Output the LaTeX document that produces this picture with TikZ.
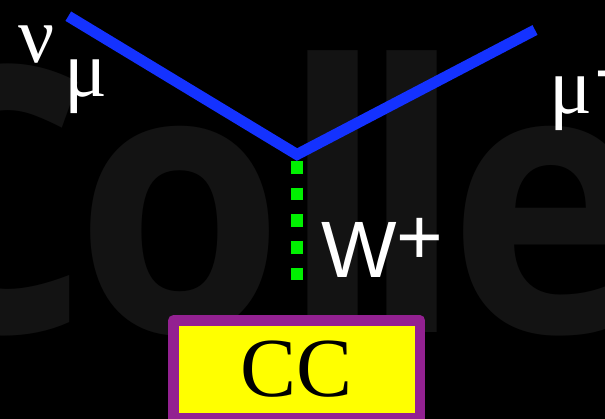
\documentclass[tikz,border=0pt]{standalone}
\usepackage{fontspec}
\setmainfont{Liberation Serif}
\newfontfamily\labelsans{Liberation Sans}
\newfontfamily\markfont{Open Sans}

\definecolor{fermion}{RGB}{20,50,255}
\definecolor{boson}{RGB}{0,240,0}
\definecolor{ccframe}{RGB}{147,33,145}
\definecolor{ccfill}{RGB}{255,255,0}
\definecolor{markgray}{RGB}{19,19,19}

\tikzset{
  fermionline/.style={draw=fermion, line width=11pt, line join=miter, line cap=butt},
  bosonline/.style={draw=boson, line width=12.6pt, dash pattern=on 12.6pt off 14.1pt},
  particle/.style={inner sep=0pt, anchor=base west, text=white},
  ccbox/.style={draw=ccframe, fill=ccfill, line width=10.5pt, line join=round,
    minimum width=246.7pt, minimum height=98pt, inner sep=0pt,
    font=\fontsize{84}{84}\selectfont},
  watermark/.style={inner sep=0pt, anchor=base west, text=markgray,
    font=\markfont\bfseries\fontsize{371}{371}\selectfont}
}

\begin{document}
\begin{tikzpicture}[x=1pt,y=-1pt]
  % page and background lettering
  \fill[black] (0,0) rectangle (605,419);
  \useasboundingbox (0,0) rectangle (605,419);
  \begin{scope}
    \clip (0,0) rectangle (605,419);
    \node[watermark] (mark) at (-125,333)
      {\scalebox{0.91}[1]{C\kern-17pt o\kern-3pt l\kern-26pt l\kern-17pt e}};

    % vertex geometry
    \coordinate (numu) at (68.3,16.2);
    \coordinate (vtx)  at (297,154.5);
    \coordinate (muon) at (535,30);
    \coordinate (wtop) at (297,161);
    \coordinate (wbot) at (297,281);

    % W propagator, then the lepton line on top
    \draw[bosonline] (wtop) -- (wbot);
    \draw[fermionline] (numu) -- (vtx) -- (muon);

    % particle labels
    \node[particle, font=\fontsize{80}{80}\selectfont] (lnu) at (18,63)
      {ν\kern10pt\raisebox{-34pt}{μ}};
    \node[particle, font=\fontsize{80}{80}\selectfont] (lmu) at (549,113.3)
      {μ\kern2pt\raisebox{13pt}{\labelsans\fontsize{80}{80}\selectfont −}};
    \node[particle, font=\labelsans\fontsize{80}{80}\selectfont] (lw) at (321,277.3)
      {W\raisebox{13pt}{+}};

    % interaction type box
    \node[ccbox] (cc) at (296.7,369.5) {\raisebox{-2pt}{CC}};
  \end{scope}
\end{tikzpicture}
\end{document}
